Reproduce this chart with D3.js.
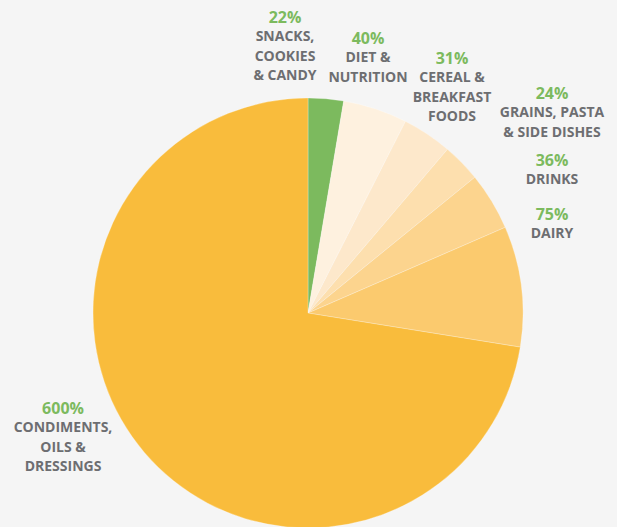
<!DOCTYPE html>
<html>
<head>
<meta charset="utf-8">
<script src="https://cdn.jsdelivr.net/npm/d3@7"></script>
<style>
  html, body { margin: 0; padding: 0; background: #f5f5f5; }
  svg { display: block; }
  .cat { font-family: "Open Sans", "Lato", sans-serif; font-weight: 700; fill: #6d6e71; font-size: 14px; }
  .pct { font-family: "Open Sans", "Lato", sans-serif; font-weight: 700; fill: #7cba5e; font-size: 16px; }
</style>
</head>
<body>
<svg id="chart" width="617" height="527"></svg>
<script>
// Food categories, clockwise from 12 o'clock
const categories = [
  "SNACKS, COOKIES & CANDY",
  "DIET & NUTRITION",
  "CEREAL & BREAKFAST FOODS",
  "GRAINS, PASTA & SIDE DISHES",
  "DRINKS",
  "DAIRY",
  "CONDIMENTS, OILS & DRESSINGS"
];
// Percentage values shown on each slice's label
const values = [22, 40, 31, 24, 36, 75, 600];
// Label text broken into lines
const labelLines = [
  ["SNACKS,", "COOKIES", "& CANDY"],
  ["DIET &", "NUTRITION"],
  ["CEREAL &", "BREAKFAST", "FOODS"],
  ["GRAINS, PASTA", "& SIDE DISHES"],
  ["DRINKS"],
  ["DAIRY"],
  ["CONDIMENTS,", "OILS &", "DRESSINGS"]
];

// Slice fills
const fills = ["#7cba5e", "#fef1df", "#fde8cb", "#fddfae", "#fcd48e", "#fbca6e", "#f9bc3c"];
// Label anchors: centre x and centre y of the percentage line
const labelPos = [
  [285, 17], [368, 38], [452, 58], [552, 93], [552, 160], [552, 214], [63, 408]
];

const svg = d3.select("#chart");
const cx = 308, cy = 313, radius = 215;
const lineGap = 19.3;

const pie = d3.pie().sort(null).value(d => d.value).startAngle(0).endAngle(2 * Math.PI);
const arc = d3.arc().innerRadius(0).outerRadius(radius);

const data = categories.map((c, i) => ({ name: c, value: values[i], index: i }));

const g = svg.append("g").attr("transform", `translate(${cx},${cy})`);
g.selectAll("path")
  .data(pie(data))
  .join("path")
  .attr("d", arc)
  .attr("fill", d => fills[d.data.index])
  .attr("stroke", "rgba(255,255,255,0.45)")
  .attr("stroke-width", 0.6);

const labels = svg.selectAll("g.label")
  .data(data)
  .join("g")
  .attr("class", "label")
  .attr("transform", d => `translate(${labelPos[d.index][0]},${labelPos[d.index][1]})`);

labels.append("text")
  .attr("class", "pct")
  .attr("text-anchor", "middle")
  .attr("y", 5.5)
  .text(d => d3.format("d")(d.value) + "%");

labels.each(function(d) {
  d3.select(this).selectAll("text.cat")
    .data(labelLines[d.index])
    .join("text")
    .attr("class", "cat")
    .attr("text-anchor", "middle")
    .attr("y", (t, j) => 5 + (j + 1) * lineGap)
    .text(t => t);
});
</script>
</body>
</html>
